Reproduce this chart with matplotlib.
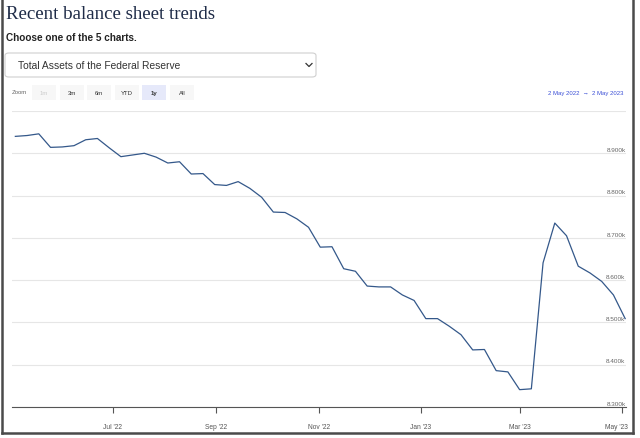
import pandas as pd
import matplotlib.pyplot as plt
import matplotlib.dates as mdates
from matplotlib.patches import FancyBboxPatch, Rectangle
from matplotlib.lines import Line2D
from matplotlib.transforms import ScaledTranslation

# weekly total assets (billions)
week_start = "2022-05-04"
total_assets = [8940, 8942, 8946, 8914, 8915, 8918, 8932, 8935, 8913, 8892,
                8896, 8900, 8891, 8877, 8880, 8851, 8852, 8826, 8824, 8833,
                8817, 8796, 8761, 8760, 8745, 8725, 8678, 8679, 8627, 8621,
                8586, 8584, 8584, 8565, 8552, 8509, 8509, 8491, 8471, 8435,
                8436, 8386, 8383, 8341, 8343, 8641, 8735, 8705, 8633, 8617,
                8597, 8565, 8509]
y_ticks = [8300, 8400, 8500, 8600, 8700, 8800, 8900, 9000]
x_ticks = ["2022-07-01", "2022-09-01", "2022-11-01", "2023-01-01", "2023-03-01", "2023-05-01"]
zoom_buttons = ["1m", "3m", "6m", "YTD", "1y", "All"]

dates = pd.date_range(week_start, periods=len(total_assets), freq="7D")

plt.rcParams['font.family'] = ['Liberation Sans', 'DejaVu Sans']

W, H = 640, 439
fig = plt.figure(figsize=(W / 100, H / 100), dpi=100)


def fx(x):
    return x / W


def fy(y):
    return 1 - y / H


# header
fig.text(fx(6), fy(19), "Recent balance sheet trends", family='Liberation Serif',
         fontsize=13.6, color='#1f2c48', va='baseline')
fig.text(fx(6), fy(41), "Choose one of the 5 charts.", fontsize=7.2,
         fontweight='bold', color='#222222', va='baseline')

# dropdown
fig.patches.append(FancyBboxPatch((fx(5), fy(78)), fx(311), 24 / H,
                                  boxstyle="round,pad=0,rounding_size=0.006",
                                  transform=fig.transFigure, fc='white',
                                  ec='#cfcfcf', lw=0.8))
fig.text(fx(18), fy(66), "Total Assets of the Federal Reserve", fontsize=7.4,
         color='#333333', va='center')
fig.lines.append(Line2D([fx(306), fx(309), fx(312)], [fy(64.5), fy(67.5), fy(64.5)],
                        transform=fig.transFigure, color='#333333', lw=0.9))

# range selector
fig.text(fx(12), fy(93), "Zoom", fontsize=4.3, color='#666666', va='center')
btn_x = [32, 60, 87, 115, 142, 170]
for lab, bx in zip(zoom_buttons, btn_x):
    active = lab == "1y"
    fig.patches.append(Rectangle((fx(bx), fy(101)), fx(24), 15 / H,
                                 transform=fig.transFigure,
                                 fc='#e6e9fa' if active else '#f7f7f7', ec='none'))
    fig.text(fx(bx + 12), fy(93.5), lab, fontsize=4.3, ha='center', va='center',
             color='#cccccc' if lab == "1m" else '#333333',
             fontweight='bold' if active else 'normal')
fig.text(fx(623), fy(93), "2 May 2022  \u2192  2 May 2023", fontsize=4.3,
         color='#3b4fd6', ha='right', va='center')

# chart
ax = fig.add_axes([fx(12), fy(408), fx(614), (408 - 112) / H])
ax.plot(dates, total_assets, color='#34588a', lw=0.9)
ax.set_xlim(pd.Timestamp("2022-05-02"), pd.Timestamp("2023-05-03 12:00"))
ax.set_ylim(8300, 9000)
ax.set_yticks(y_ticks)
ax.tick_params(axis='y', length=0, labelleft=False)
ax.grid(axis='y', color='#e6e6e6', lw=0.8)
ax.set_axisbelow(True)
for v in y_ticks[:-1]:
    ax.text(0.999, v + 3, f"{v / 1000:.3f}k", transform=ax.get_yaxis_transform(),
            ha='right', va='bottom', fontsize=4.6, color='#666666')

ax.set_xticks(pd.to_datetime(x_ticks))
ax.xaxis.set_major_formatter(mdates.DateFormatter("%b '%y"))
ax.tick_params(axis='x', direction='out', length=4.3, width=0.8, color='#555555',
               labelsize=4.8, labelcolor='#555555', pad=7)
# last label is pushed inside the plot edge
last = ax.get_xticklabels()[-1]
last.set_horizontalalignment('right')
last.set_transform(last.get_transform() + ScaledTranslation(0.06, 0, fig.dpi_scale_trans))
for s in ['top', 'right', 'left']:
    ax.spines[s].set_visible(False)
ax.spines['bottom'].set_color('#555555')
ax.spines['bottom'].set_linewidth(0.8)

# outer frame
for xs, ys in [([2, 2], [0, 434]), ([633, 633], [0, 434]), ([2, 633], [434, 434])]:
    fig.lines.append(Line2D([fx(x) for x in xs], [fy(y) for y in ys],
                            transform=fig.transFigure, color='#4a4a4a', lw=1.8))

fig.savefig("out.png", dpi=100)
